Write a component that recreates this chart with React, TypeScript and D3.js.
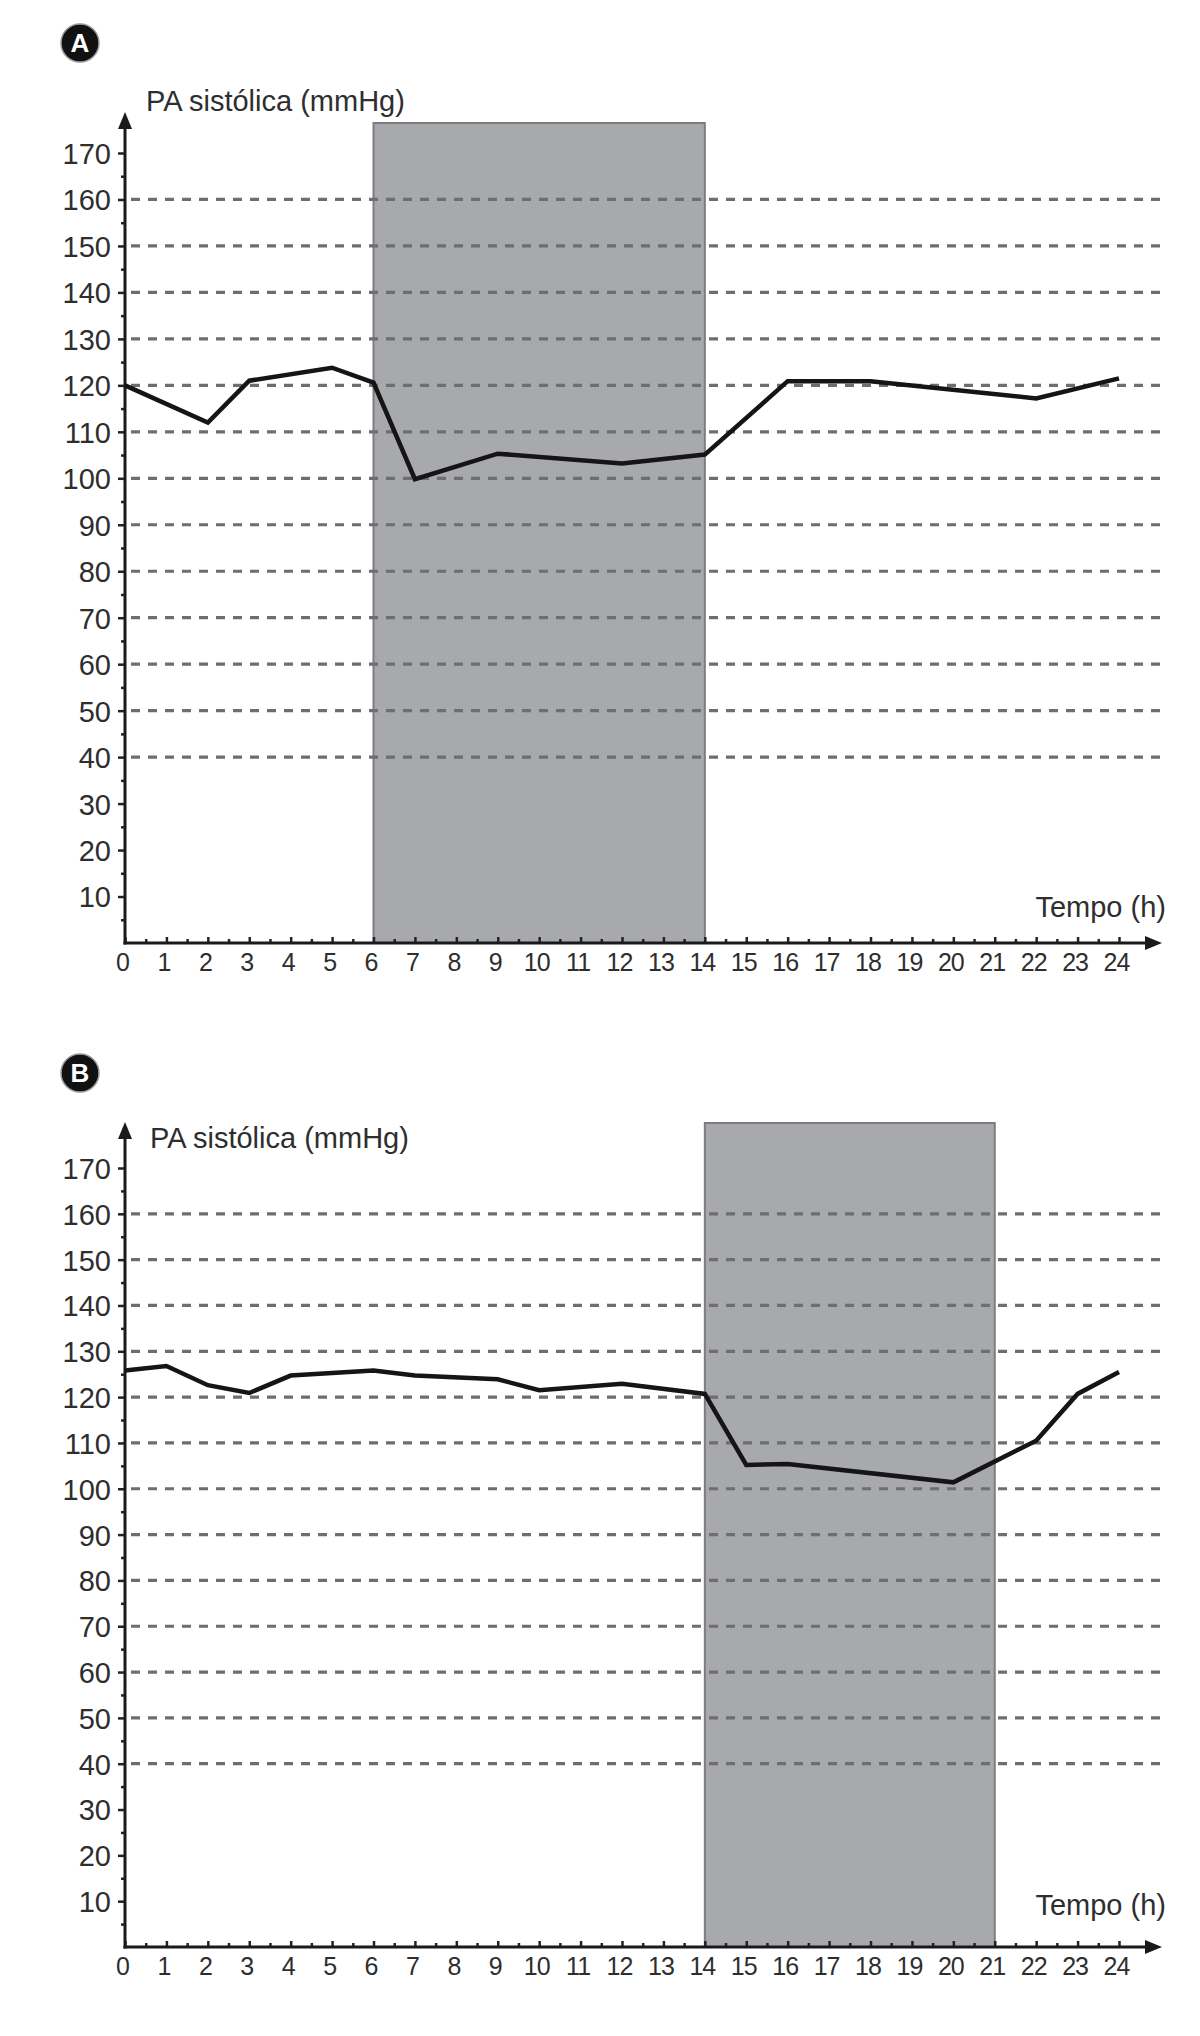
import React, { useRef, useEffect } from "react";
import * as d3 from "d3";

// valores (PA sistólica em mmHg ao longo de 24 h)
const hoursA = [0, 2, 3, 5, 6, 7, 9, 12, 14, 16, 18, 22, 24];
const pressureA = [120, 112, 121, 123.8, 120.6, 99.8, 105.3, 103.2, 105.1, 120.9, 120.9, 117.2, 121.5];

const hoursB = [0, 1, 2, 3, 4, 6, 7, 9, 10, 12, 14, 15, 16, 20, 22, 23, 24];
const pressureB = [125.8, 126.8, 122.6, 120.9, 124.7, 125.8, 124.7, 123.9, 121.5, 122.9, 120.7, 105.2, 105.4, 101.4, 110.5, 120.7, 125.5];

const sleepA = [6, 14];
const sleepB = [14, 21];

const yTicks = d3.range(10, 171, 10);
const yMinorTicks = d3.range(5, 171, 10);
const gridValues = d3.range(40, 161, 10);
const xTicks = d3.range(0, 25, 1);
const xMinorTicks = d3.range(0.5, 24, 1);

const yLabel = "PA sistólica (mmHg)";
const xLabel = "Tempo (h)";

const FONT = "'Liberation Sans', Arial, Helvetica, sans-serif";
const INK = "#2e2e2e";

type Panel = {
  letter: string;
  hours: number[];
  values: number[];
  sleep: number[];
  baseY: number; // pixel do zero
  topY: number; // pixel do 170
  arrowTip: number;
  rectTop: number;
  circleY: number;
  yLabelPos: [number, number];
  xLabelY: number;
};

const panels: Panel[] = [
  {
    letter: "A",
    hours: hoursA,
    values: pressureA,
    sleep: sleepA,
    baseY: 943,
    topY: 153,
    arrowTip: 112,
    rectTop: 123,
    circleY: 43,
    yLabelPos: [146, 111],
    xLabelY: 917,
  },
  {
    letter: "B",
    hours: hoursB,
    values: pressureB,
    sleep: sleepB,
    baseY: 1947,
    topY: 1168,
    arrowTip: 1122,
    rectTop: 1123,
    circleY: 1073,
    yLabelPos: [150, 1148],
    xLabelY: 1915,
  },
];

const App: React.FC = () => {
  const svgRef = useRef<SVGSVGElement | null>(null);

  useEffect(() => {
    const svg = d3.select(svgRef.current);
    svg.selectAll("*").remove();

    const x = d3.scaleLinear().domain([0, 24]).range([125, 1119]);
    const axisX = x(0);
    const arrowEnd = 1162;

    panels.forEach((p) => {
      const y = d3.scaleLinear().domain([0, 170]).range([p.baseY, p.topY]);
      const g = svg.append("g");

      // letra do painel
      g.append("circle")
        .attr("cx", 80)
        .attr("cy", p.circleY)
        .attr("r", 19)
        .attr("fill", "#111")
        .attr("stroke", "#999")
        .attr("stroke-width", 1.5);
      g.append("text")
        .attr("x", 80)
        .attr("y", p.circleY)
        .attr("dy", "0.36em")
        .attr("text-anchor", "middle")
        .style("font-family", FONT)
        .style("font-size", "26px")
        .style("font-weight", "bold")
        .attr("fill", "#fff")
        .text(p.letter);

      // período de sono
      g.append("rect")
        .attr("x", x(p.sleep[0]))
        .attr("y", p.rectTop)
        .attr("width", x(p.sleep[1]) - x(p.sleep[0]))
        .attr("height", p.baseY - p.rectTop)
        .attr("fill", "#a8a9ac")
        .attr("stroke", "#7d7d7f")
        .attr("stroke-width", 2);

      // linhas tracejadas
      g.append("g")
        .selectAll("line")
        .data(gridValues)
        .join("line")
        .attr("x1", axisX + 6)
        .attr("x2", 1162)
        .attr("y1", (d) => y(d))
        .attr("y2", (d) => y(d))
        .attr("stroke", "#6e6e6e")
        .attr("stroke-width", 3.2)
        .attr("stroke-dasharray", "9 8");

      // eixo Y
      const yAxis = g
        .append("g")
        .attr("transform", `translate(${axisX},0)`)
        .call(
          d3
            .axisLeft(y)
            .tickValues(yTicks)
            .tickSize(7)
            .tickPadding(7)
            .tickFormat(d3.format("d"))
        );
      yAxis.select(".domain").remove();
      yAxis.selectAll("line").attr("stroke", "#222").attr("stroke-width", 2.5);
      yAxis
        .selectAll("text")
        .style("font-family", FONT)
        .style("font-size", "29px")
        .attr("fill", INK)
        .attr("dy", "0.36em");

      const yMinor = g
        .append("g")
        .attr("transform", `translate(${axisX},0)`)
        .call(d3.axisLeft(y).tickValues(yMinorTicks).tickSize(4).tickFormat(() => ""));
      yMinor.select(".domain").remove();
      yMinor.selectAll("line").attr("stroke", "#222").attr("stroke-width", 2.5);

      // eixo X
      const xAxis = g
        .append("g")
        .attr("transform", `translate(0,${p.baseY})`)
        .call(
          d3
            .axisBottom(x)
            .tickValues(xTicks)
            .tickSizeInner(-6)
            .tickSizeOuter(0)
            .tickPadding(10)
            .tickFormat(d3.format("d"))
        );
      xAxis.select(".domain").remove();
      xAxis.selectAll("line").attr("stroke", "#222").attr("stroke-width", 2.5);
      xAxis
        .selectAll("text")
        .style("font-family", FONT)
        .style("font-size", "25px")
        .style("letter-spacing", "-1px")
        .attr("fill", INK)
        .attr("dx", "-3");

      const xMinor = g
        .append("g")
        .attr("transform", `translate(0,${p.baseY})`)
        .call(
          d3
            .axisBottom(x)
            .tickValues(xMinorTicks)
            .tickSizeInner(-4)
            .tickSizeOuter(0)
            .tickFormat(() => "")
        );
      xMinor.select(".domain").remove();
      xMinor.selectAll("line").attr("stroke", "#222").attr("stroke-width", 2.5);

      // linhas dos eixos com setas
      g.append("line")
        .attr("x1", axisX)
        .attr("x2", axisX)
        .attr("y1", p.baseY + 1.5)
        .attr("y2", p.arrowTip + 10)
        .attr("stroke", "#1a1a1a")
        .attr("stroke-width", 3);
      g.append("path")
        .attr(
          "d",
          `M${axisX - 7},${p.arrowTip + 17} L${axisX},${p.arrowTip} L${axisX + 7},${p.arrowTip + 17} Z`
        )
        .attr("fill", "#1a1a1a");

      g.append("line")
        .attr("x1", axisX - 1.5)
        .attr("x2", arrowEnd - 10)
        .attr("y1", p.baseY)
        .attr("y2", p.baseY)
        .attr("stroke", "#1a1a1a")
        .attr("stroke-width", 3);
      g.append("path")
        .attr(
          "d",
          `M${arrowEnd - 17},${p.baseY - 7} L${arrowEnd},${p.baseY} L${arrowEnd - 17},${p.baseY + 7} Z`
        )
        .attr("fill", "#1a1a1a");

      // curva da pressão
      const pts = p.hours.map((h, i) => [h, p.values[i]] as [number, number]);
      g.append("path")
        .datum(pts)
        .attr("fill", "none")
        .attr("stroke", "#151515")
        .attr("stroke-width", 4.5)
        .attr("stroke-linejoin", "miter")
        .attr(
          "d",
          d3
            .line<[number, number]>()
            .x((d) => x(d[0]))
            .y((d) => y(d[1]))
        );

      // títulos dos eixos
      g.append("text")
        .attr("x", p.yLabelPos[0])
        .attr("y", p.yLabelPos[1])
        .style("font-family", FONT)
        .style("font-size", "29px")
        .attr("fill", INK)
        .text(yLabel);

      g.append("text")
        .attr("x", 1166)
        .attr("y", p.xLabelY)
        .attr("text-anchor", "end")
        .style("font-family", FONT)
        .style("font-size", "29px")
        .attr("fill", INK)
        .text(xLabel);
    });
  }, []);

  return (
    <svg
      ref={svgRef}
      width={1200}
      height={2036}
      style={{ position: "absolute", left: 0, top: 0, background: "#fff" }}
    />
  );
};

export default App;
